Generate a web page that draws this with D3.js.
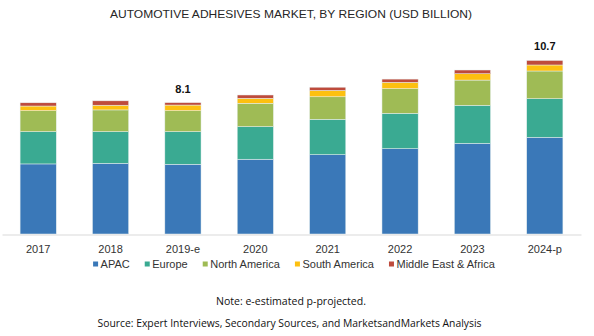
<!DOCTYPE html>
<html>
<head>
<meta charset="utf-8">
<script src="https://cdn.jsdelivr.net/npm/d3@7"></script>
<style>
  body { margin: 0; background: #fff; }
  svg { display: block; }
</style>
</head>
<body>
<div id="chart"></div>
<script>
// data (USD billion)
const years = ["2017", "2018", "2019-e", "2020", "2021", "2022", "2023", "2024-p"];
const apac = [4.32, 4.36, 4.30, 4.61, 4.89, 5.26, 5.59, 5.96];
const europe = [1.99, 1.95, 2.01, 2.01, 2.18, 2.18, 2.34, 2.38];
const northAmerica = [1.29, 1.34, 1.29, 1.44, 1.39, 1.52, 1.56, 1.71];
const southAmerica = [0.29, 0.29, 0.35, 0.31, 0.39, 0.39, 0.39, 0.37];
const middleEast = [0.20, 0.27, 0.15, 0.20, 0.20, 0.20, 0.23, 0.28];
const totalLabels = ["", "", "8.1", "", "", "", "", "10.7"];

const seriesNames = ["APAC", "Europe", "North America", "South America", "Middle East & Africa"];
const seriesColors = ["#3a78b8", "#3aaa92", "#9fbb55", "#fdc010", "#be4b3c"];

const width = 594, height = 336;
const baseY = 234;

const svg = d3.select("#chart")
  .append("svg")
  .attr("width", width)
  .attr("height", height);

// table for the stack
const table = years.map((y, i) => ({
  year: y,
  "APAC": apac[i],
  "Europe": europe[i],
  "North America": northAmerica[i],
  "South America": southAmerica[i],
  "Middle East & Africa": middleEast[i]
}));

const stacked = d3.stack().keys(seriesNames)(table);

const x = d3.scaleBand()
  .domain(years)
  .range([2, 581])
  .paddingInner(0.5)
  .paddingOuter(0.25);

const y = d3.scaleLinear()
  .domain([0, 12])
  .range([baseY, baseY - 12 * 16.22]);

const color = d3.scaleOrdinal().domain(seriesNames).range(seriesColors);

// title
svg.append("text")
  .attr("x", 291)
  .attr("y", 18)
  .attr("text-anchor", "middle")
  .attr("font-family", "Liberation Sans, Arial, sans-serif")
  .attr("font-size", 10.5)
  .attr("fill", "#262626")
  .attr("textLength", 362)
  .attr("lengthAdjust", "spacingAndGlyphs")
  .text("AUTOMOTIVE ADHESIVES MARKET, BY REGION (USD BILLION)");

// bars
svg.append("g")
  .selectAll("g")
  .data(stacked)
  .join("g")
    .attr("fill", d => color(d.key))
  .selectAll("rect")
  .data(d => d)
  .join("rect")
    .attr("x", d => x(d.data.year))
    .attr("y", d => y(d[1]))
    .attr("width", x.bandwidth())
    .attr("height", d => y(d[0]) - y(d[1]))
    .attr("stroke", "#e8f0f0")
    .attr("stroke-width", 0.5);

// x axis
const xAxis = svg.append("g")
  .attr("transform", `translate(0,${baseY + 0.5})`)
  .call(d3.axisBottom(x).tickSize(0).tickPadding(10.5));
xAxis.select(".domain").attr("stroke", "#d9d9d9");
xAxis.selectAll("text")
  .attr("font-family", "Liberation Sans, Arial, sans-serif")
  .attr("font-size", 11)
  .attr("fill", "#333");

// total labels
const totals = years.map((yr, i) => apac[i] + europe[i] + northAmerica[i] + southAmerica[i] + middleEast[i]);
svg.append("g")
  .selectAll("text")
  .data(years)
  .join("text")
    .attr("x", d => x(d) + x.bandwidth() / 2)
    .attr("y", (d, i) => y(totals[i]) - 10)
    .attr("text-anchor", "middle")
    .attr("font-family", "Liberation Sans, Arial, sans-serif")
    .attr("font-size", 11)
    .attr("font-weight", "bold")
    .attr("fill", "#111")
    .text((d, i) => totalLabels[i]);

// legend
const legend = svg.append("g");
let lx = 0;
seriesNames.forEach((name, i) => {
  const item = legend.append("g").attr("transform", `translate(${lx},0)`);
  item.append("rect")
    .attr("x", 0).attr("y", 261.5)
    .attr("width", 5).attr("height", 5)
    .attr("fill", seriesColors[i]);
  const t = item.append("text")
    .attr("x", 7.5).attr("y", 267.5)
    .attr("font-family", "Liberation Sans, Arial, sans-serif")
    .attr("font-size", 11)
    .attr("fill", "#333")
    .text(name);
  lx += 7.5 + t.node().getComputedTextLength() + 15;
});
const legendW = lx - 15;
legend.attr("transform", `translate(${294 - legendW / 2},0)`);

// notes
svg.append("text")
  .attr("x", 291)
  .attr("y", 305)
  .attr("text-anchor", "middle")
  .attr("font-family", "Open Sans, Noto Sans, sans-serif")
  .attr("font-size", 10)
  .attr("fill", "#111")
  .attr("textLength", 150)
  .attr("lengthAdjust", "spacingAndGlyphs")
  .text("Note: e-estimated p-projected.");

svg.append("text")
  .attr("x", 289.5)
  .attr("y", 327)
  .attr("text-anchor", "middle")
  .attr("font-family", "Open Sans, Noto Sans, sans-serif")
  .attr("font-size", 10)
  .attr("fill", "#111")
  .attr("textLength", 384)
  .attr("lengthAdjust", "spacingAndGlyphs")
  .text("Source: Expert Interviews, Secondary Sources, and MarketsandMarkets Analysis");
</script>
</body>
</html>
